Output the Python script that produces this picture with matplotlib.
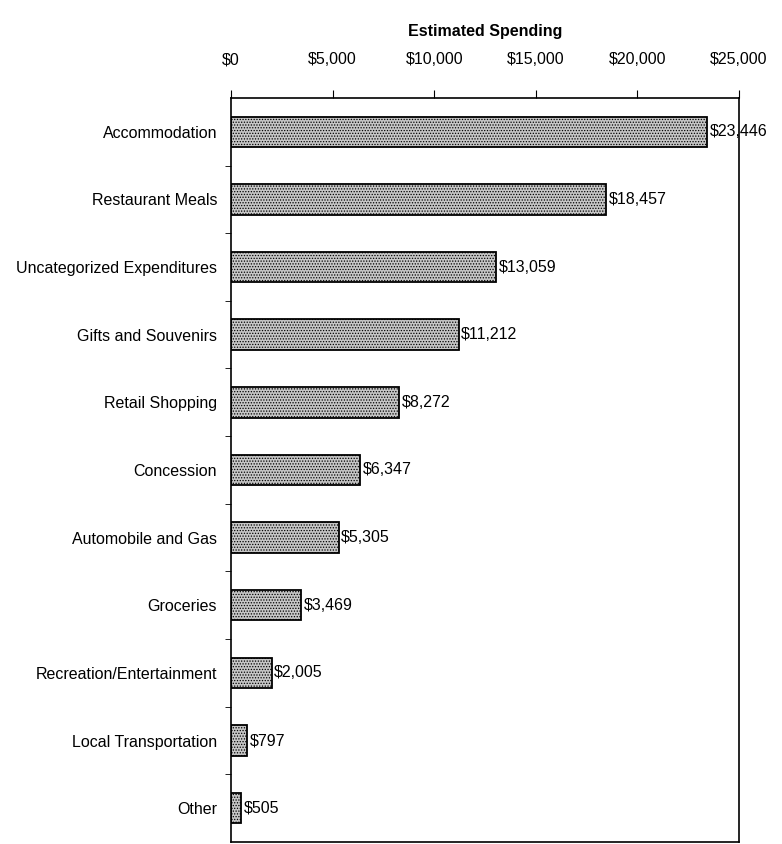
import matplotlib.pyplot as plt
from matplotlib.ticker import FixedLocator
import numpy as np

categories = ['Accommodation', 'Restaurant Meals', 'Uncategorized Expenditures',
              'Gifts and Souvenirs', 'Retail Shopping', 'Concession',
              'Automobile and Gas', 'Groceries', 'Recreation/Entertainment',
              'Local Transportation', 'Other']
spending = [23446, 18457, 13059, 11212, 8272, 6347, 5305, 3469, 2005, 797, 505]
xticks = [0, 5000, 10000, 15000, 20000, 25000]

plt.rcParams['font.family'] = ['Liberation Sans', 'DejaVu Sans']
plt.rcParams['hatch.color'] = '#7a7a7a'
plt.rcParams['hatch.linewidth'] = 0.6

fig = plt.figure(figsize=(7.82, 8.44), dpi=100)
ax = fig.add_axes([0.2954, 0.0024, 0.6496, 0.8816])

y = np.arange(len(categories))
ax.barh(y, spending, height=0.45, color='#c6c6c6', edgecolor='black',
        linewidth=1.3, hatch='......')

for yi, v in zip(y, spending):
    ax.text(v + 120, yi, f'${v:,}', va='center', ha='left', fontsize=11.5)

ax.set_xlim(0, 25000)
ax.set_ylim(len(categories) - 0.5, -0.5)
ax.xaxis.tick_top()
ax.xaxis.set_label_position('top')
ax.set_xticks(xticks)
ax.set_xticklabels([f'${t:,}' for t in xticks], fontsize=11.5)
ax.tick_params(axis='x', length=6, pad=16)
ax.set_xlabel('Estimated Spending', fontsize=11.5, fontweight='bold', labelpad=12)

ax.set_yticks(y)
ax.set_yticklabels(categories, fontsize=11.5)
ax.tick_params(axis='y', which='major', length=0, pad=10)
ax.yaxis.set_minor_locator(FixedLocator(np.arange(0.5, len(categories) - 0.5, 1)))
ax.tick_params(axis='y', which='minor', length=4)

for s in ax.spines.values():
    s.set_linewidth(1.2)

fig.savefig('out.png', dpi=100)
